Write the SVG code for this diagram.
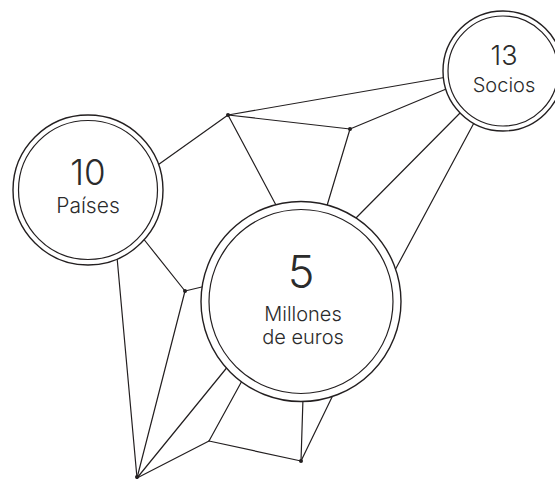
<svg xmlns="http://www.w3.org/2000/svg" width="555" height="479" viewBox="0 0 555 479">
<style>
.ln{stroke:#231f20;stroke-width:1.2;fill:none;stroke-linecap:round}
.ring{stroke:#231f20;stroke-width:1.4;fill:#fff}
.ring2{stroke:#231f20;stroke-width:1.2;fill:none}
.dot{fill:#231f20}
text{font-family:Inter,"Liberation Sans",sans-serif;fill:#2b2b2b;text-anchor:middle;font-weight:300}
</style>
<rect width="555" height="479" fill="#fff"/>
<g id="connectors">
<line class="ln" x1="155" y1="167" x2="228" y2="115"/>
<line class="ln" x1="228" y1="115" x2="447" y2="77"/>
<line class="ln" x1="228" y1="115" x2="350" y2="129"/>
<line class="ln" x1="228" y1="115" x2="277" y2="207"/>
<line class="ln" x1="350" y1="129" x2="451" y2="87"/>
<line class="ln" x1="350" y1="129" x2="326" y2="209"/>
<line class="ln" x1="463" y1="110" x2="353" y2="221"/>
<line class="ln" x1="475" y1="121" x2="394" y2="272"/>
<line class="ln" x1="142" y1="237" x2="185" y2="291"/>
<line class="ln" x1="185" y1="291" x2="206" y2="286"/>
<line class="ln" x1="185" y1="291" x2="137" y2="478"/>
<line class="ln" x1="117" y1="257" x2="137" y2="478"/>
<line class="ln" x1="229" y1="365" x2="137" y2="478"/>
<line class="ln" x1="243" y1="379" x2="209" y2="441"/>
<line class="ln" x1="209" y1="441" x2="137" y2="478"/>
<line class="ln" x1="209" y1="441" x2="301" y2="461"/>
<line class="ln" x1="301" y1="461" x2="303" y2="398"/>
<line class="ln" x1="301" y1="461" x2="334" y2="393"/>
<circle class="dot" cx="228" cy="115" r="2"/>
<circle class="dot" cx="350" cy="129" r="2"/>
<circle class="dot" cx="185" cy="291" r="2"/>
<circle class="dot" cx="137" cy="477" r="2"/>
<circle class="dot" cx="301" cy="461" r="2"/>
</g>
<g id="paises">
<circle class="ring" cx="88" cy="190" r="75"/>
<circle class="ring2" cx="88" cy="190" r="69.5"/>
<text x="88" y="185" font-size="35">10</text>
<text x="88" y="213" font-size="21">Países</text>
</g>
<g id="socios">
<circle class="ring" cx="503" cy="71" r="60"/>
<circle class="ring2" cx="503" cy="71" r="55"/>
<text x="504" y="65" font-size="27">13</text>
<text x="504" y="92" font-size="20">Socios</text>
</g>
<g id="millones">
<circle class="ring" cx="301" cy="301.5" r="100"/>
<circle class="ring2" cx="301" cy="301.5" r="92"/>
<text x="301" y="288" font-size="45">5</text>
<text x="303" y="321" font-size="20">Millones</text>
<text x="303" y="344" font-size="20">de euros</text>
</g>
</svg>
